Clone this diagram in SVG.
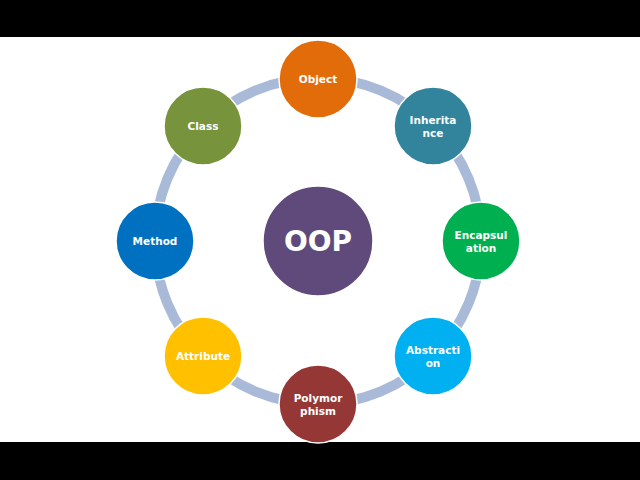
<svg xmlns="http://www.w3.org/2000/svg" width="640" height="480" viewBox="0 0 640 480">
<style>
.bar{fill:#000}
.ring{fill:none;stroke:#A8BAD8;stroke-width:10}
.node{stroke:#fff;stroke-width:1.5}
.lbl{font-family:"DejaVu Sans",Verdana,sans-serif;font-weight:bold;font-size:10.5px;fill:#fff;text-anchor:middle}
.big{font-family:"DejaVu Sans",Verdana,sans-serif;font-weight:bold;font-size:28px;fill:#fff;text-anchor:middle}
</style>
<rect x="0" y="0" width="640" height="480" fill="#fff"/>
<rect class="bar" x="0" y="0" width="640" height="37"/>
<rect class="bar" x="0" y="442" width="640" height="38"/>
<g id="connectors">
<path class="ring" d="M318 78 A163 163 0 0 1 433.26 125.74"/>
<path class="ring" d="M433.26 125.74 A163 163 0 0 1 481 241"/>
<path class="ring" d="M481 241 A163 163 0 0 1 433.26 356.26"/>
<path class="ring" d="M433.26 356.26 A163 163 0 0 1 318 404"/>
<path class="ring" d="M318 404 A163 163 0 0 1 202.74 356.26"/>
<path class="ring" d="M202.74 356.26 A163 163 0 0 1 155 241"/>
<path class="ring" d="M155 241 A163 163 0 0 1 202.74 125.74"/>
<path class="ring" d="M202.74 125.74 A163 163 0 0 1 318 78"/>
</g>
<g id="oop"><circle class="node" cx="318" cy="241" r="55" fill="#604A7B"/><text class="big" x="318" y="251">OOP</text></g>
<g id="object"><circle class="node" cx="318" cy="79" r="39" fill="#E36C0A"/><text class="lbl" x="318" y="83">Object</text></g>
<g id="inheritance"><circle class="node" cx="433" cy="126" r="39" fill="#31849B"/><text class="lbl" x="433" y="124">Inherita</text><text class="lbl" x="433" y="137">nce</text></g>
<g id="encapsulation"><circle class="node" cx="481" cy="241" r="39" fill="#00B050"/><text class="lbl" x="481" y="239">Encapsul</text><text class="lbl" x="481" y="252">ation</text></g>
<g id="abstraction"><circle class="node" cx="433" cy="356" r="39" fill="#00B0F0"/><text class="lbl" x="433" y="354">Abstracti</text><text class="lbl" x="433" y="367">on</text></g>
<g id="polymorphism"><circle class="node" cx="318" cy="404" r="39" fill="#953735"/><text class="lbl" x="318" y="402">Polymor</text><text class="lbl" x="318" y="415">phism</text></g>
<g id="attribute"><circle class="node" cx="203" cy="356" r="39" fill="#FFC000"/><text class="lbl" x="203" y="360">Attribute</text></g>
<g id="method"><circle class="node" cx="155" cy="241" r="39" fill="#0070C0"/><text class="lbl" x="155" y="245">Method</text></g>
<g id="class"><circle class="node" cx="203" cy="126" r="39" fill="#77933C"/><text class="lbl" x="203" y="130">Class</text></g>
</svg>
